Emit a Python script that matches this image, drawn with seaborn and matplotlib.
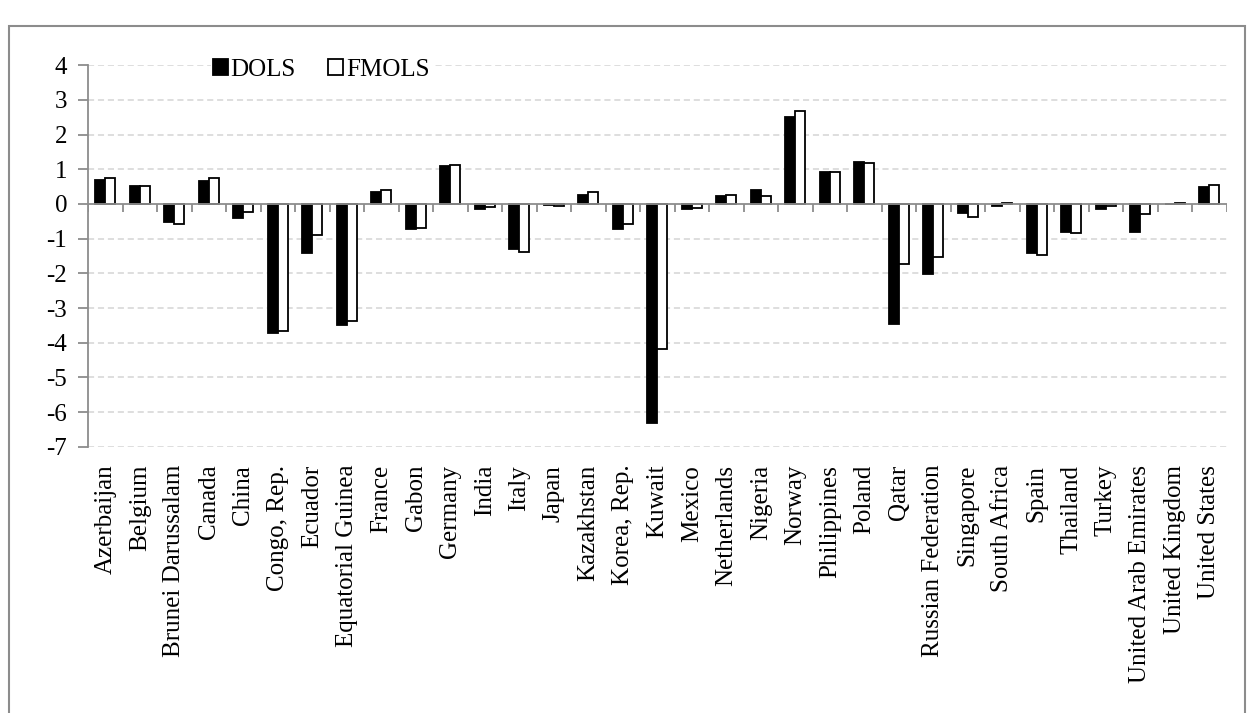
import numpy as np
import pandas as pd
import matplotlib
matplotlib.use("Agg")
import matplotlib.pyplot as plt
import seaborn as sns
from matplotlib.patches import Rectangle

# ============================================================
# DATA
# ============================================================
countries = [
    "Azerbaijan", "Belgium", "Brunei Darussalam", "Canada", "China",
    "Congo, Rep.", "Ecuador", "Equatorial Guinea", "France", "Gabon",
    "Germany", "India", "Italy", "Japan", "Kazakhstan", "Korea, Rep.",
    "Kuwait", "Mexico", "Netherlands", "Nigeria", "Norway", "Philippines",
    "Poland", "Qatar", "Russian Federation", "Singapore", "South Africa",
    "Spain", "Thailand", "Turkey", "United Arab Emirates",
    "United Kingdom", "United States",
]

dols = [
    0.68, 0.51, -0.52, 0.67, -0.40,
    -3.73, -1.42, -3.48, 0.35, -0.73,
    1.09, -0.14, -1.31, -0.03, 0.26, -0.72,
    -6.31, -0.14, 0.22, 0.40, 2.50, 0.91,
    1.22, -3.47, -2.03, -0.25, -0.05,
    -1.42, -0.81, -0.15, -0.80,
    0.01, 0.50,
]

fmols = [
    0.74, 0.52, -0.57, 0.74, -0.22,
    -3.66, -0.88, -3.37, 0.41, -0.69,
    1.13, -0.09, -1.38, -0.07, 0.36, -0.59,
    -4.18, -0.11, 0.25, 0.22, 2.67, 0.93,
    1.17, -1.73, -1.54, -0.38, 0.03,
    -1.48, -0.85, -0.06, -0.29,
    0.03, 0.56,
]

methods = ["DOLS", "FMOLS"]
y_ticks = list(range(-7, 5))

df = pd.DataFrame({
    "country": countries * 2,
    "method": [methods[0]] * len(countries) + [methods[1]] * len(countries),
    "value": dols + fmols,
})

# ============================================================
# PLOT
# ============================================================
sns.set_style("white")
plt.rcParams["font.family"] = ["Liberation Serif", "DejaVu Serif"]
plt.rcParams["font.size"] = 18
plt.rcParams["axes.unicode_minus"] = False
plt.rcParams["text.color"] = "black"
plt.rcParams["xtick.labelcolor"] = "black"
plt.rcParams["ytick.labelcolor"] = "black"

GRAY = "#8c8c8c"

fig = plt.figure(figsize=(12.5, 7.13), dpi=100)
ax = fig.add_axes([0.0704, 0.3735, 0.9109, 0.5349])

sns.barplot(
    data=df, x="country", y="value", hue="method",
    palette={"DOLS": "black", "FMOLS": "white"},
    edgecolor="black", linewidth=1.3, width=0.58,
    ax=ax, zorder=3,
)

ax.set_ylim(y_ticks[0], y_ticks[-1])
ax.set_xlim(-0.5, len(countries) - 0.5)
ax.set_yticks(y_ticks)
ax.set_xlabel("")
ax.set_ylabel("")

# dashed horizontal gridlines
for t in y_ticks:
    if t != 0:
        ax.axhline(t, color="#d4d4d4", linestyle=(0, (4, 2.5)), linewidth=1.1, zorder=0)

# zero axis line and boundary ticks (Excel-style category axis)
ax.axhline(0, color=GRAY, linewidth=1.3, zorder=4)
bounds = np.arange(len(countries) + 1) - 0.5
ax.vlines(bounds, -0.22, 0, color=GRAY, linewidth=1.3, zorder=4)

for side in ["top", "right", "bottom"]:
    ax.spines[side].set_visible(False)
ax.spines["left"].set_color(GRAY)
ax.spines["left"].set_linewidth(1.3)

ax.tick_params(axis="y", direction="out", length=7, width=1.3, color=GRAY,
               pad=8, labelsize=18, left=True, labelcolor="black")
ax.tick_params(axis="x", length=0, pad=13, labelsize=18, labelcolor="black")
ax.set_xticks(range(len(countries)))
ax.set_xticklabels(countries, rotation=90, va="top", ha="center")

# legend
handles, labels = ax.get_legend_handles_labels()
leg = ax.legend(
    handles, labels, ncol=2, loc="center",
    bbox_to_anchor=(0.257, 0.902), bbox_transform=fig.transFigure,
    frameon=True, fancybox=False, edgecolor="none", facecolor="white",
    framealpha=1, fontsize=18, handlelength=0.6, handleheight=0.6,
    handletextpad=0.1, columnspacing=1.3, borderpad=0.1, borderaxespad=0,
)
leg.set_zorder(5)

# outer chart border
fig.patches.append(Rectangle((0.0072, -0.01), 0.9888, 0.9735,
                             transform=fig.transFigure, fill=False,
                             edgecolor=GRAY, linewidth=1.5))

fig.savefig("out.png", dpi=100)
